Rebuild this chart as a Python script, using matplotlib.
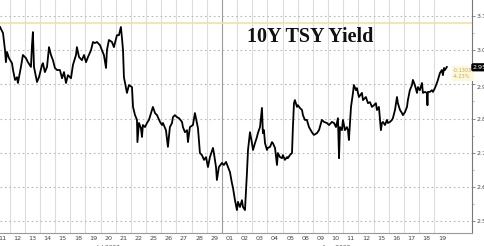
import matplotlib
matplotlib.use("Agg")
import matplotlib.pyplot as plt
import matplotlib.transforms as mtransforms
import numpy as np

# trading days shown on the x axis
days = ["11", "12", "13", "14", "15", "18", "19", "20", "21", "22",
        "25", "26", "27", "28", "29", "01", "02", "03", "04", "05",
        "08", "09", "10", "11", "12", "15", "16", "17", "18", "19"]
months = ["Jul 2022", "Aug 2022"]
month_start = [0, 15]

# session time (in trading days) and yield readings
t = [-0.13, 0.07, 0.20, 0.26, 0.33, 0.46, 0.66, 0.73, 0.86, 0.99,
     1.05, 1.25, 1.38, 1.58, 1.71, 1.91, 1.98, 2.04, 2.11, 2.18,
     2.31, 2.44, 2.64, 2.70, 2.83, 2.97, 3.10, 3.23, 3.36, 3.49,
     3.63, 3.82, 3.96, 4.09, 4.22, 4.35, 4.55, 4.68, 4.88, 4.94,
     5.08, 5.27, 5.41, 5.54, 5.67, 5.87, 6.00, 6.13, 6.26, 6.46,
     6.59, 6.72, 6.86, 6.92, 7.05, 7.25, 7.38, 7.58, 7.71, 7.84,
     7.91, 7.98, 8.04, 8.17, 8.24, 8.37, 8.57, 8.64, 8.77, 8.90,
     8.93, 9.03, 9.16, 9.23, 9.29, 9.43, 9.56, 9.69, 9.89, 9.95,
     10.09, 10.22, 10.28, 10.42, 10.55, 10.61, 10.81, 10.94, 11.07, 11.21,
     11.27, 11.40, 11.54, 11.67, 11.87, 11.93, 12.06, 12.20, 12.26, 12.39,
     12.59, 12.72, 12.85, 12.92, 13.05, 13.18, 13.32, 13.45, 13.58, 13.71,
     13.91, 13.97, 14.11, 14.17, 14.30, 14.50, 14.63, 14.77, 14.90, 15.03,
     15.16, 15.23, 15.36, 15.49, 15.56, 15.69, 15.82, 15.89, 16.02, 16.15,
     16.22, 16.35, 16.48, 16.55, 16.68, 16.81, 16.87, 17.01, 17.14, 17.20,
     17.27, 17.34, 17.47, 17.53, 17.67, 17.80, 17.86, 18.00, 18.13, 18.19,
     18.33, 18.46, 18.52, 18.65, 18.79, 18.85, 18.98, 19.12, 19.18, 19.25,
     19.31, 19.45, 19.51, 19.64, 19.78, 19.84, 19.97, 20.10, 20.24, 20.43,
     20.56, 20.76, 20.90, 21.09, 21.23, 21.42, 21.56, 21.75, 21.89, 22.02,
     22.15, 22.22, 22.28, 22.41, 22.48, 22.61, 22.74, 22.81, 22.87, 23.01,
     23.14, 23.20, 23.34, 23.40, 23.53, 23.73, 23.80, 23.99, 24.13, 24.26,
     24.39, 24.52, 24.65, 24.72, 24.85, 24.98, 25.05, 25.12, 25.25, 25.38,
     25.44, 25.58, 25.71, 25.77, 25.91, 26.04, 26.10, 26.24, 26.37, 26.43,
     26.57, 26.70, 26.76, 26.89, 27.03, 27.09, 27.22, 27.36, 27.42, 27.55,
     27.69, 27.75, 27.88, 28.01, 28.05, 28.08, 28.21, 28.34, 28.41, 28.54,
     28.67, 28.74, 28.87, 29.00, 29.07, 29.14, 29.20, 29.33]

yld = [3.068, 3.050, 3.000, 2.965, 2.995, 2.977, 2.962, 2.942, 2.913, 2.921,
       2.904, 2.951, 2.986, 2.977, 2.965, 2.951, 3.015, 3.053, 2.951, 2.936,
       2.907, 2.921, 2.957, 2.962, 2.936, 2.951, 3.009, 2.986, 2.971, 2.948,
       2.942, 2.942, 2.918, 2.936, 2.904, 2.927, 2.918, 2.957, 2.986, 3.009,
       2.980, 2.971, 2.986, 2.965, 2.980, 3.000, 3.024, 3.021, 3.024, 3.015,
       3.000, 2.986, 2.948, 3.000, 3.030, 3.024, 3.009, 3.044, 3.044, 3.068,
       3.036, 3.000, 2.921, 2.892, 2.875, 2.898, 2.892, 2.834, 2.810, 2.796,
       2.731, 2.787, 2.772, 2.746, 2.781, 2.775, 2.787, 2.796, 2.825, 2.834,
       2.816, 2.810, 2.804, 2.790, 2.781, 2.787, 2.766, 2.717, 2.775, 2.787,
       2.804, 2.810, 2.804, 2.801, 2.790, 2.775, 2.760, 2.766, 2.731, 2.775,
       2.781, 2.816, 2.787, 2.772, 2.699, 2.693, 2.679, 2.687, 2.658, 2.687,
       2.714, 2.699, 2.658, 2.620, 2.658, 2.670, 2.664, 2.673, 2.658, 2.643,
       2.611, 2.597, 2.561, 2.532, 2.556, 2.541, 2.561, 2.541, 2.532, 2.641,
       2.708, 2.760, 2.728, 2.708, 2.728, 2.746, 2.757, 2.775, 2.831, 2.757,
       2.766, 2.728, 2.708, 2.714, 2.717, 2.731, 2.728, 2.714, 2.664, 2.699,
       2.687, 2.684, 2.693, 2.679, 2.687, 2.684, 2.693, 2.699, 2.775, 2.845,
       2.854, 2.834, 2.839, 2.831, 2.825, 2.810, 2.796, 2.796, 2.775, 2.760,
       2.752, 2.757, 2.766, 2.796, 2.790, 2.787, 2.781, 2.790, 2.787, 2.775,
       2.801, 2.684, 2.775, 2.766, 2.796, 2.766, 2.775, 2.766, 2.737, 2.834,
       2.875, 2.898, 2.883, 2.889, 2.863, 2.875, 2.854, 2.863, 2.845, 2.848,
       2.834, 2.839, 2.845, 2.825, 2.834, 2.766, 2.787, 2.790, 2.781, 2.796,
       2.787, 2.790, 2.796, 2.801, 2.825, 2.863, 2.845, 2.825, 2.816, 2.810,
       2.819, 2.834, 2.854, 2.883, 2.898, 2.913, 2.898, 2.875, 2.892, 2.883,
       2.904, 2.875, 2.878, 2.875, 2.839, 2.878, 2.878, 2.883, 2.878, 2.889,
       2.904, 2.913, 2.933, 2.942, 2.927, 2.948, 2.942, 2.951]

ref_level = 3.0803
last = 2.95
chg_txt = "-0.1303\n-4.23%"
yticks = [2.50, 2.60, 2.70, 2.80, 2.90, 3.00, 3.10]

fig = plt.figure(figsize=(4.85, 2.46), dpi=100)
ax = fig.add_axes([0.0, 0.053, 0.973, 0.947])
ax.set_xlim(-0.13, 30.98)
ax.set_ylim(2.465, 3.147)

# day separators
for k in range(1, len(days)):
    c = "#9a9a9a" if k in month_start else "#dcdcdc"
    ax.axvline(k - 0.5, color=c, lw=0.8, zorder=0)
for v in yticks:
    ax.axhline(v, color="#b8b8b8", lw=0.8, ls=(0, (1.5, 2.5)), zorder=0)

ax.axhline(ref_level, color="#f0e3a4", lw=1.2, zorder=1)
ax.plot(t, yld, color="black", lw=1.3, zorder=3)

ax.text(20.3, 3.038, "10Y TSY Yield", family="Liberation Serif", fontweight="bold",
        fontsize=14.5, ha="center", va="center", color="#111111", zorder=4)

ax.text(29.75, 2.932, chg_txt, fontsize=3.6, color="#c8a84a", ha="left", va="center",
        linespacing=1.3, zorder=4,
        bbox=dict(boxstyle="square,pad=0.3", fc="#fdf8dc", ec="none"))

# y axis on the right
ax.yaxis.tick_right()
ax.set_yticks(yticks)
ax.set_yticklabels([f"{v:.2f}" for v in yticks])
ax.set_yticks(np.arange(2.55, 3.11, 0.1), minor=True)
ax.tick_params(axis="y", which="major", length=2.5, width=0.6, color="#777777",
               labelsize=4.6, labelcolor="#444444", pad=1)
ax.tick_params(axis="y", which="minor", length=1.5, width=0.5, color="#999999")
for lab in ax.get_yticklabels():
    if lab.get_text() == "2.90":
        lab.set_transform(lab.get_transform() + mtransforms.ScaledTranslation(0, -2 / 72, fig.dpi_scale_trans))

ax.text(1.002, last, f"{last:.2f}", transform=ax.get_yaxis_transform(), fontsize=4.6,
        color="white", ha="left", va="center", zorder=5, clip_on=False,
        bbox=dict(boxstyle="round,pad=0.25,rounding_size=0.3", fc="black", ec="none"))

# x axis
ax.set_xticks(range(len(days)))
ax.set_xticklabels(days)
ax.tick_params(axis="x", length=0, labelsize=4.6, labelcolor="#444444", pad=2)
trans = ax.get_xaxis_transform()
for m, s in zip(months, month_start):
    ax.text(s + 7, -0.052, m, transform=trans, fontsize=4.2, color="#444444",
            ha="center", va="top", clip_on=False)

for side in ["top", "left"]:
    ax.spines[side].set_visible(False)
ax.spines["bottom"].set_color("#999999")
ax.spines["bottom"].set_linewidth(0.8)
ax.spines["right"].set_color("#777777")
ax.spines["right"].set_linewidth(0.8)

fig.savefig("out.png", dpi=100, facecolor="white")
